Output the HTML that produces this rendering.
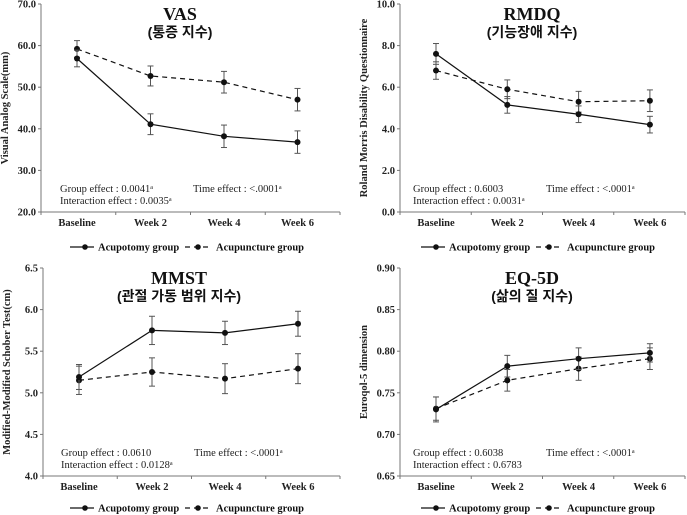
<!DOCTYPE html>
<html><head><meta charset="utf-8"><style>
html,body{margin:0;padding:0;background:#fff;}
svg{display:block;}
.tk{font-family:"Liberation Serif",serif;font-weight:bold;font-size:10.5px;fill:#222;}
.eff{font-family:"Liberation Serif",serif;font-size:10.5px;fill:#222;}
.ttl{font-family:"Liberation Serif",serif;font-weight:bold;font-size:18px;fill:#111;}
.kr{font-family:"Liberation Sans","Noto Sans CJK KR",sans-serif;font-weight:bold;font-size:14px;fill:#111;}
.lg{font-family:"Liberation Serif",serif;font-weight:bold;font-size:10.5px;fill:#111;}
</style></head><body>
<svg id="chart" width="687" height="515" viewBox="0 0 687 515"></svg>
<script>
const categories = ["Baseline","Week 2","Week 4","Week 6"];
const vasAcupotomy = [56.9,41.1,38.2,36.8];
const vasAcupotomyErr = [2.0,2.5,2.7,2.7];
const vasAcupuncture = [59.2,52.7,51.2,47.0];
const vasAcupunctureErr = [2.0,2.4,2.6,2.7];
const vasTicks = [20,30,40,50,60,70];
const rmdqAcupotomy = [7.6,5.15,4.7,4.2];
const rmdqAcupotomyErr = [0.5,0.4,0.4,0.4];
const rmdqAcupuncture = [6.8,5.9,5.3,5.35];
const rmdqAcupunctureErr = [0.42,0.45,0.5,0.52];
const rmdqTicks = [0,2,4,6,8,10];
const mmstAcupotomy = [5.19,5.75,5.72,5.83];
const mmstAcupotomyErr = [0.15,0.17,0.14,0.15];
const mmstAcupuncture = [5.15,5.25,5.17,5.29];
const mmstAcupunctureErr = [0.17,0.17,0.18,0.18];
const mmstTicks = [4.0,4.5,5.0,5.5,6.0,6.5];
const eqAcupotomy = [0.730,0.782,0.791,0.798];
const eqAcupotomyErr = [0.015,0.013,0.013,0.011];
const eqAcupuncture = [0.731,0.765,0.779,0.791];
const eqAcupunctureErr = [0.014,0.013,0.014,0.013];
const eqTicks = [0.65,0.70,0.75,0.80,0.85,0.90];

const NS="http://www.w3.org/2000/svg";
const svg=document.getElementById('chart');
function mk(tag,attrs,parent,text){const e=document.createElementNS(NS,tag);for(const k in attrs)e.setAttribute(k,attrs[k]);if(text!==undefined)e.textContent=text;parent.appendChild(e);return e;}

function panel(p){
  const g=mk('g',{},svg);
  
  
  const yMin=p.ticks[0],yMax=p.ticks[p.ticks.length-1];
  const ys=v=>p.yB-(v-yMin)/(yMax-yMin)*(p.yB-p.yT);
  const xs=i=>p.x0+i*p.dx;
  const ax=mk('line',{x1:p.ax,y1:p.yT,x2:p.ax,y2:p.yB,stroke:'#777','stroke-width':1},g);
  
  const bx=mk('line',{x1:p.ax,y1:p.yB,x2:p.axEnd,y2:p.yB,stroke:'#777','stroke-width':1},g);
  
  p.ticks.forEach(t=>{
    mk('line',{x1:p.ax-3,y1:ys(t),x2:p.ax,y2:ys(t),stroke:'#777'},g);
    const tl=mk('text',{x:p.ax-5,y:ys(t)+3.5,'text-anchor':'end',class:'tk'},g,t.toFixed(p.dec));
    
  });
  for(let i=0;i<=categories.length;i++){const x=p.ax+i*(p.axEnd-p.ax)/4;mk('line',{x1:x,y1:p.yB,x2:x,y2:p.yB+3,stroke:'#777'},g);}
  categories.forEach((c,i)=>{
    const t=mk('text',{x:xs(i),y:p.yB+14,'text-anchor':'middle',class:'tk'},g,c);
    
  });
  const yt=mk('text',{x:0,y:0,transform:`translate(${p.ax-33},${(p.yT+p.yB)/2}) rotate(-90)`,'text-anchor':'middle',class:'tk'},g,p.ytitle);
  
  const t1=mk('text',{x:p.tx,y:p.yT+16,'text-anchor':'middle',class:'ttl'},g,p.title);
  
  const t2=mk('text',{x:p.tx,y:p.yT+33,'text-anchor':'middle',class:'kr'},g,p.kr);
  
  const e1=mk('text',{x:p.ex,y:p.yB-20,class:'eff'},g,p.e1);
  
  const e2=mk('text',{x:p.ex+133,y:p.yB-20,class:'eff'},g,p.e2);
  
  const e3=mk('text',{x:p.ex,y:p.yB-8,class:'eff'},g,p.e3);
  
  const series=[{v:p.s2,e:p.e2v,dash:'5,4',n:'acupuncture'},{v:p.s1,e:p.e1v,dash:'',n:'acupotomy'}];
  series.forEach(s=>{
    const sg=mk('g',{},g);
    
    const pts=s.v.map((v,i)=>xs(i)+','+ys(v)).join(' ');
    const pl=mk('polyline',{points:pts,fill:'none',stroke:'#111','stroke-width':1.2,'stroke-dasharray':s.dash},sg);
    
    s.v.forEach((v,i)=>{
      const x=xs(i),hi=ys(v+s.e[i]),lo=ys(v-s.e[i]);
      mk('line',{x1:x,y1:hi,x2:x,y2:lo,stroke:'#555','stroke-width':1},sg);
      mk('line',{x1:x-3,y1:hi,x2:x+3,y2:hi,stroke:'#555'},sg);
      mk('line',{x1:x-3,y1:lo,x2:x+3,y2:lo,stroke:'#555'},sg);
      const c=mk('circle',{cx:x,cy:ys(v),r:3,fill:'#111'},sg);
      
    });
  });
  const lg=mk('g',{},g);
  
  const ly=p.ly;
  mk('line',{x1:p.lx,y1:ly,x2:p.lx+24,y2:ly,stroke:'#111','stroke-width':1.2},lg);
  mk('circle',{cx:p.lx+15,cy:ly,r:2.8,fill:'#111'},lg);
  const l1=mk('text',{x:p.lx+28,y:ly+3.5,class:'lg'},lg,'Acupotomy group');
  
  const lx2=p.lx+115;
  mk('line',{x1:lx2,y1:ly,x2:lx2+24,y2:ly,stroke:'#111','stroke-width':1.2,'stroke-dasharray':'5,4'},lg);
  mk('circle',{cx:lx2+13,cy:ly,r:2.8,fill:'#111'},lg);
  const l2=mk('text',{x:lx2+31,y:ly+3.5,class:'lg'},lg,'Acupuncture group');
  
}

panel({name:'vas',ax:41,axEnd:340,yT:4,yB:212,x0:77,dx:73.5,ticks:vasTicks,dec:1,ytitle:'Visual  Analog  Scale(mm)',
  title:'VAS',kr:'(통증 지수)',tx:180,ex:60,e1:'Group effect : 0.0041ᵃ',e2:'Time effect : <.0001ᵃ',e3:'Interaction effect : 0.0035ᵃ',
  s1:vasAcupotomy,e1v:vasAcupotomyErr,s2:vasAcupuncture,e2v:vasAcupunctureErr,lx:70,ly:247});
panel({name:'rmdq',ax:400,axEnd:685,yT:4,yB:212,x0:436,dx:71.3,ticks:rmdqTicks,dec:1,ytitle:'Roland Morris Disability Questionnaire',
  title:'RMDQ',kr:'(기능장애 지수)',tx:532,ex:413,e1:'Group effect : 0.6003',e2:'Time effect : <.0001ᵃ',e3:'Interaction effect : 0.0031ᵃ',
  s1:rmdqAcupotomy,e1v:rmdqAcupotomyErr,s2:rmdqAcupuncture,e2v:rmdqAcupunctureErr,lx:421,ly:247});
panel({name:'mmst',ax:43,axEnd:340,yT:268,yB:476,x0:79,dx:73,ticks:mmstTicks,dec:1,ytitle:'Modified-Modified Schober Test(cm)',
  title:'MMST',kr:'(관절 가동 범위 지수)',tx:179,ex:61,e1:'Group effect : 0.0610',e2:'Time effect : <.0001ᵃ',e3:'Interaction effect : 0.0128ᵃ',
  s1:mmstAcupotomy,e1v:mmstAcupotomyErr,s2:mmstAcupuncture,e2v:mmstAcupunctureErr,lx:70,ly:508});
panel({name:'eq5d',ax:400,axEnd:685,yT:268,yB:476,x0:436,dx:71.3,ticks:eqTicks,dec:2,ytitle:'Euroqol-5 dimension',
  title:'EQ-5D',kr:'(삶의 질 지수)',tx:532,ex:413,e1:'Group effect : 0.6038',e2:'Time effect : <.0001ᵃ',e3:'Interaction effect : 0.6783',
  s1:eqAcupotomy,e1v:eqAcupotomyErr,s2:eqAcupuncture,e2v:eqAcupunctureErr,lx:421,ly:508});
</script>
</body></html>
